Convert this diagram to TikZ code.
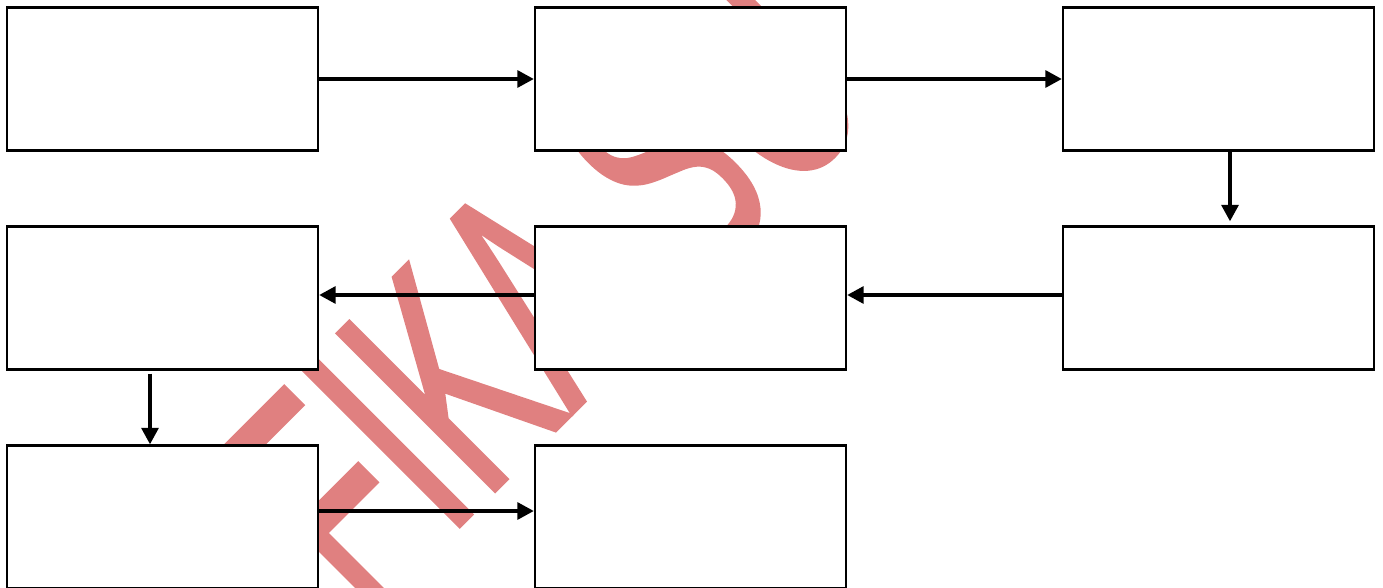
\documentclass[tikz,border=0pt]{standalone}
\usepackage{fontspec}
\setmainfont{Liberation Sans}
\newfontfamily\wmfont{Liberation Sans}[FakeBold=1.6]
\usetikzlibrary{arrows.meta,positioning}
\definecolor{wmark}{RGB}{224,128,128}
\tikzset{
  stepbox/.style   = {draw, line width=1.2pt, fill=white, inner sep=0pt,
                      minimum width=6.22cm, minimum height=2.86cm},
  flow/.style      = {-{Triangle[length=3.3mm,width=3.3mm]}, line width=2.7pt},
  watermark/.style = {text=wmark, inner sep=0pt, rotate=45, anchor=base west,
                      font=\wmfont\fontsize{183}{183}\selectfont},
}

\begin{document}
\begin{tikzpicture}
  \useasboundingbox (0,0) rectangle (27.66,11.74);
  \clip (0,0) rectangle (27.66,11.74);

  % ---------------- watermark --------------------------------------------
  \node[watermark] (wm) at (7.32,-0.64) {\scalebox{0.58}[1]{FIKA SU}};

  % ---------------- boxes ------------------------------------------------
  \node[stepbox] (b11) at (3.25,10.16) {};
  \node[stepbox] (b12) at (13.81,10.16) {};
  \node[stepbox] (b13) at (24.37,10.16) {};
  \node[stepbox] (b21) at (3.25,5.78) {};
  \node[stepbox] (b22) at (13.81,5.78) {};
  \node[stepbox] (b23) at (24.37,5.78) {};
  \node[stepbox] (b31) at (3.25,1.40) {};
  \node[stepbox] (b32) at (13.81,1.40) {};

  % ---------------- arrows -----------------------------------------------
  \draw[flow] (b11) -- (b12);
  \draw[flow] (b12) -- (b13);
  \draw[flow,shorten >=0.08cm] ([xshift=0.23cm]b13.south) -- ([xshift=0.23cm]b23.north);
  \draw[flow] ([yshift=0.06cm]b23.west) -- ([yshift=0.06cm]b22.east);
  \draw[flow] ([yshift=0.06cm]b22.west) -- ([yshift=0.06cm]b21.east);
  \draw[flow,shorten <=0.06cm] ([xshift=-0.25cm]b21.south) -- ([xshift=-0.25cm]b31.north);
  \draw[flow] ([yshift=0.12cm]b31.east) -- ([yshift=0.12cm]b32.west);
\end{tikzpicture}
\end{document}
